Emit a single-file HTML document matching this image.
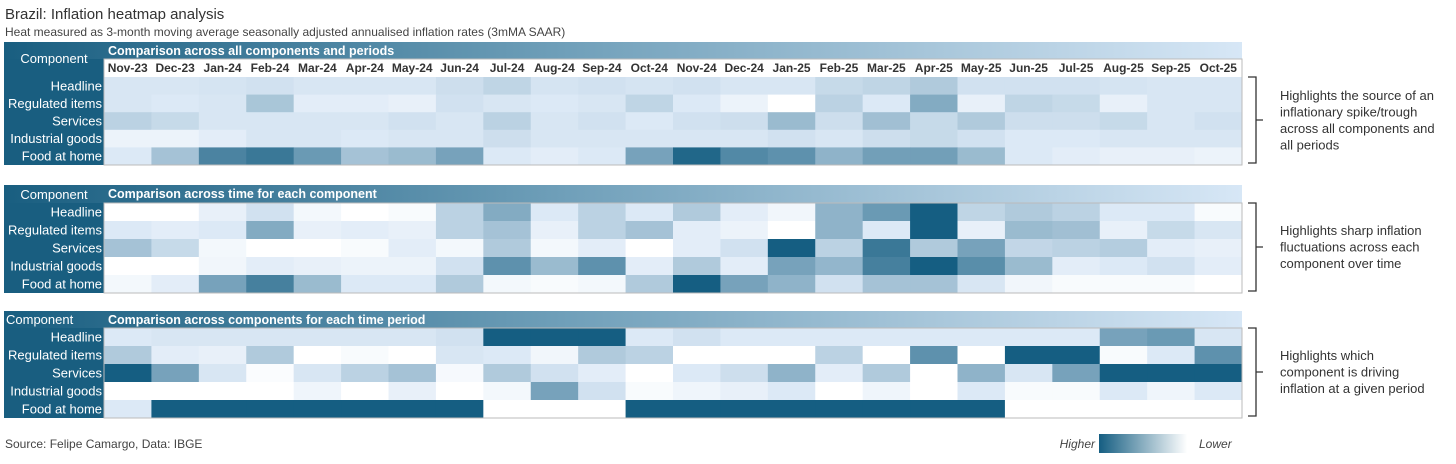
<!DOCTYPE html>
<html><head><meta charset="utf-8">
<style>
body{margin:0;background:#fff;font-family:"Liberation Sans",sans-serif;}
svg{display:block}
</style></head>
<body>
<svg id="c" width="1456" height="464" xmlns="http://www.w3.org/2000/svg">
<defs>
<linearGradient id="hdr" x1="0" x2="1" y1="0" y2="0"><stop offset="0" stop-color="#195e80"/><stop offset="0.45" stop-color="#6f9fb9"/><stop offset="1" stop-color="#d7e7f6"/></linearGradient>
<linearGradient id="leg" x1="0" x2="1" y1="0" y2="0"><stop offset="0" stop-color="#155e82"/><stop offset="0.9" stop-color="#ffffff"/></linearGradient>
</defs>
<text x="5" y="19" font-size="15" fill="#333">Brazil: Inflation heatmap analysis</text>
<text x="5" y="36" font-size="12" fill="#444">Heat measured as 3-month moving average seasonally adjusted annualised inflation rates (3mMA SAAR)</text>
<text x="5" y="448" font-size="12" fill="#444">Source: Felipe Camargo, Data: IBGE</text>
<g>
<text x="1095" y="448" font-size="12" font-style="italic" fill="#444" text-anchor="end">Higher</text>
<rect x="1099" y="434" width="98" height="19" fill="url(#leg)"/>
<text x="1199" y="448" font-size="12" font-style="italic" fill="#444">Lower</text>
</g>
<g id="panels"></g>
</svg>
<script>
const months=["Nov-23","Dec-23","Jan-24","Feb-24","Mar-24","Apr-24","May-24","Jun-24","Jul-24","Aug-24","Sep-24","Oct-24","Nov-24","Dec-24","Jan-25","Feb-25","Mar-25","Apr-25","May-25","Jun-25","Jul-25","Aug-25","Sep-25","Oct-25"];
const components=["Headline","Regulated items","Services","Industrial goods","Food at home"];
const panelTitles=["Comparison across all components and periods","Comparison across time for each component","Comparison across components for each time period"];
const notes=[["Highlights the source of an","inflationary spike/trough","across all components and","all periods"],["Highlights sharp inflation","fluctuations across each","component over time"],["Highlights which","component is driving","inflation at a given period"]];
const p1Headline=[.17,.17,.18,.2,.17,.17,.17,.22,.28,.18,.2,.18,.2,.17,.17,.25,.28,.35,.2,.2,.2,.18,.17,.17];
const p1Regulated=[.17,.15,.17,.38,.12,.12,.1,.2,.17,.15,.17,.28,.15,.08,0,.3,.15,.55,.1,.28,.25,.1,.17,.17];
const p1Services=[.3,.25,.17,.17,.17,.17,.2,.17,.3,.17,.2,.15,.2,.22,.45,.22,.42,.25,.35,.22,.22,.25,.17,.2];
const p1Industrial=[.08,.08,.12,.17,.17,.15,.17,.17,.22,.17,.17,.17,.17,.17,.2,.17,.22,.25,.2,.15,.15,.17,.17,.17];
const p1Food=[.15,.4,.78,.85,.65,.4,.45,.6,.15,.12,.15,.6,.95,.75,.7,.5,.62,.62,.45,.15,.12,.1,.1,.08];
const p2Headline=[0,0,.1,.2,.05,0,.03,.3,.55,.15,.3,.15,.35,.12,.06,.5,.65,1,.28,.35,.3,.15,.15,.03];
const p2Regulated=[.15,.12,.15,.55,.1,.12,.1,.3,.4,.1,.3,.4,.12,.08,0,.5,.15,1,.1,.45,.42,.1,.25,.17];
const p2Services=[.4,.25,.05,0,0,.03,.12,.05,.35,.05,.12,0,.12,.2,1,.3,.85,.35,.6,.27,.3,.33,.12,.1];
const p2Industrial=[0,0,.06,.12,.1,.08,.08,.2,.7,.45,.7,.12,.35,.12,.6,.48,.8,1,.72,.45,.12,.15,.2,.12];
const p2Food=[.05,.12,.6,.8,.45,.15,.15,.35,.05,.03,.05,.35,1,.6,.5,.2,.4,.4,.17,.06,.03,.03,.03,0];
const p3Headline=[.15,.17,.17,.17,.17,.17,.17,.2,1,1,1,.15,.2,.15,.15,.15,.15,.15,.15,.15,.15,.6,.65,.17];
const p3Regulated=[.35,.12,.1,.35,0,.03,0,.17,.15,.06,.35,.3,0,0,0,.3,0,.7,0,1,1,.03,.15,.7];
const p3Services=[1,.6,.17,.02,.17,.3,.4,.04,.35,.2,.12,0,.15,.22,.5,.12,.35,0,.5,.17,.6,1,1,1];
const p3Industrial=[0,0,0,0,.07,0,.1,0,.05,.6,.2,.03,.07,.1,.15,0,.07,0,.15,.03,.03,.15,.07,.15];
const p3Food=[.15,1,1,1,1,1,1,1,0,0,0,1,1,1,1,1,1,1,1,0,0,0,0,0];
const panelData=[[p1Headline,p1Regulated,p1Services,p1Industrial,p1Food],[p2Headline,p2Regulated,p2Services,p2Industrial,p2Food],[p3Headline,p3Regulated,p3Services,p3Industrial,p3Food]];

const NS="http://www.w3.org/2000/svg";
const X0=104,X1=1242,colW=(X1-X0)/months.length;
const xPos=i=>X0+i*colW;
const stops=[[0,[255,255,255]],[0.15,[220,233,246]],[0.5,[143,179,201]],[1,[21,94,130]]];
function color(v){v=Math.max(0,Math.min(1,v));for(let k=1;k<stops.length;k++){if(v<=stops[k][0]){const a=stops[k-1],b=stops[k],t=(v-a[0])/(b[0]-a[0]);const c=a[1].map((x,j)=>Math.round(x+(b[1][j]-x)*t));return `rgb(${c})`;}}return "rgb(21,94,130)";}
function el(tag,attrs,parent,text){const e=document.createElementNS(NS,tag);for(const k in attrs)e.setAttribute(k,attrs[k]);if(text!==undefined)e.textContent=text;parent.appendChild(e);return e;}
const root=document.getElementById("panels");
const layouts=[{top:42,hdrH:17,monthsRow:true,rowsTop:77,rowsBot:165,compX:54,compY:63,anchor:"middle"},
{top:185,hdrH:18,monthsRow:false,rowsTop:203,rowsBot:293,compX:54,compY:199,anchor:"middle"},
{top:311,hdrH:17,monthsRow:false,rowsTop:328,rowsBot:418,compX:6,compY:324,anchor:"start"}];
layouts.forEach((L,p)=>{
  const g=el("g",{},root);
  
  
  const lb=el("rect",{x:4,y:L.top,width:X0-4,height:L.rowsBot-L.top,fill:"#195e80"},g);
  
  
  const hb=el("rect",{x:4,y:L.top,width:X1-4,height:L.hdrH,fill:"url(#hdr)"},g);
  
  
  const ct=el("text",{x:L.compX,y:L.compY,"font-size":13,fill:"#fff","text-anchor":L.anchor},g,"Component");
  
  
  const pt=el("text",{x:X0+4,y:L.top+13,"font-size":12.5,"font-weight":"bold",fill:"#fff"},g,panelTitles[p]);
  
  
  if(L.monthsRow){
    el("rect",{x:X0,y:L.top+L.hdrH,width:X1-X0,height:L.rowsTop-L.top-L.hdrH,fill:"#fff"},g);
    months.forEach((m,i)=>{const t=el("text",{x:xPos(i)+colW/2,y:L.rowsTop-5,"font-size":12,"font-weight":"bold",fill:"#333","text-anchor":"middle"},g,m);
      
      });
  }
  const rowH=(L.rowsBot-L.rowsTop)/components.length;
  components.forEach((c,r)=>{
    const t=el("text",{x:X0-2,y:L.rowsTop+r*rowH+rowH/2+4.5,"font-size":13,fill:"#fff","text-anchor":"end"},g,c);
    
    
    panelData[p][r].forEach((v,i)=>{
      const cell=el("rect",{x:xPos(i),y:L.rowsTop+r*rowH,width:colW+0.5,height:rowH+0.5,fill:color(v)},g);
      
      
    });
  });
  el("rect",{x:X0,y:L.top+L.hdrH,width:X1-X0,height:L.rowsBot-L.top-L.hdrH,fill:"none",stroke:"#bbb","stroke-width":1},g);
  const by0=L.rowsTop,by1=L.rowsBot-2,bm=(by0+by1)/2;
  const br=el("path",{d:`M1248 ${by0} H1256 V${by1} H1248 M1256 ${bm} H1263`,fill:"none",stroke:"#333","stroke-width":1.3},g);
  
  
  const lines=notes[p],lh=16.5,sy=bm-(lines.length-1)*lh/2+4.5;
  lines.forEach((s,k)=>{const t=el("text",{x:1280,y:sy+k*lh,"font-size":13,fill:"#333"},g,s);
    
    });
});
</script>
</body></html>
